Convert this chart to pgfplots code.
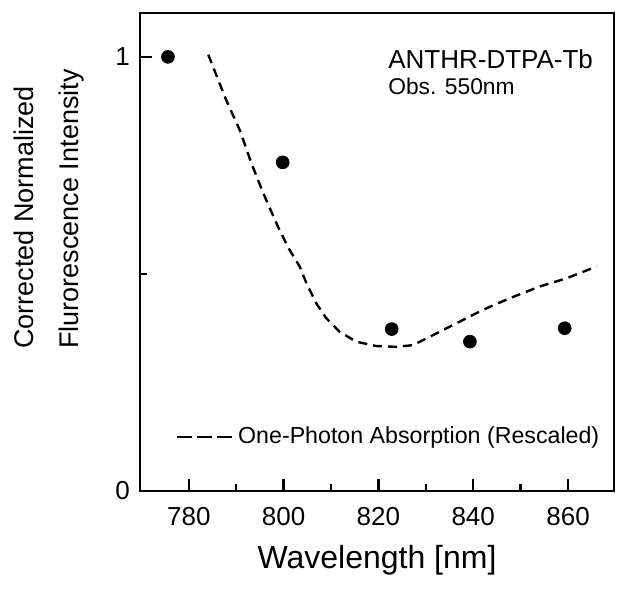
\documentclass[border=0pt]{standalone}
\usepackage{pgfplots}
\pgfplotsset{compat=1.18}
\usepackage{fontspec}
\setmainfont{Liberation Sans}

\begin{document}
\begin{tikzpicture}
\begin{axis}[
  scale only axis,
  width=237pt, height=239pt,
  xmin=769.7, xmax=869.7,
  ymin=0, ymax=1.101,
  xtick={780,800,...,860},
  minor xtick={790,810,...,850},
  ytick={0,1},
  minor ytick={0.5},
  tick pos=left,
  tick align=inside,
  major tick length=6pt,
  minor tick length=3.5pt,
  tick style={line width=1.2pt,black},
  axis line style={line width=1.4pt},
  /pgf/number format/assume math mode=true,
  tick label style={font=\fontsize{13}{15}\selectfont},
  xticklabel style={yshift=-4.5pt},
  yticklabel style={xshift=-1.5pt},
  xlabel={Wavelength [nm]},
  xlabel style={font=\fontsize{16}{19}\selectfont,
    at={(axis description cs:0.5,-0.144)}, anchor=center},
  ylabel={Corrected Normalized\\Flurorescence Intensity},
  ylabel style={font=\fontsize{13.5}{22.5}\selectfont, align=left,
    at={(axis description cs:-0.193,0.59)}, anchor=center},
  legend style={draw=none, fill=none, at={(axis description cs:0.062,0.113)},
    anchor=west, font=\fontsize{11.6}{13.5}\selectfont},
  legend cell align=left,
]
% measured points
\addplot[only marks, mark=*, mark size=3.2pt, black, forget plot] coordinates {
  (775.6,1.0) (799.8,0.757) (822.8,0.373) (839.3,0.344) (859.3,0.375)};
% one-photon absorption, rescaled
\addplot[black, line width=1.2pt, dash pattern=on 4.5pt off 3pt,
  legend image code/.code={\draw[black, line width=1.2pt,
    dash pattern=on 7.5pt off 2.5pt] (0pt,0pt) -- (28pt,0pt);}]
  coordinates {
  (784.1,1.005) (787.9,0.90) (790.8,0.83) (793.2,0.755) (795.7,0.686)
  (798.8,0.609) (801.0,0.56) (803.4,0.517) (804.8,0.479) (806.9,0.432)
  (809.0,0.398) (811.8,0.367) (815.3,0.344) (819.5,0.334) (823.8,0.332)
  (827.3,0.336) (831.5,0.359) (836.4,0.386) (842.0,0.417) (847.7,0.444)
  (854.0,0.471) (859.7,0.490) (866.0,0.517)};
\addlegendentry{One-Photon Absorption (Rescaled)}
\node[anchor=west, inner sep=0pt, font=\fontsize{13}{15}\selectfont]
  at (axis cs:822,0.995) {ANTHR-DTPA-Tb};
\node[anchor=west, inner sep=0pt, font=\fontsize{11.4}{14}\selectfont]
  at (axis cs:822,0.931) {Obs. 550nm};
\end{axis}
\pgfresetboundingbox
\path[use as bounding box] ([shift={(-70pt,-54.5pt)}]current axis.south west)
  rectangle ([shift={(245pt,245.5pt)}]current axis.south west);
\end{tikzpicture}
\end{document}
